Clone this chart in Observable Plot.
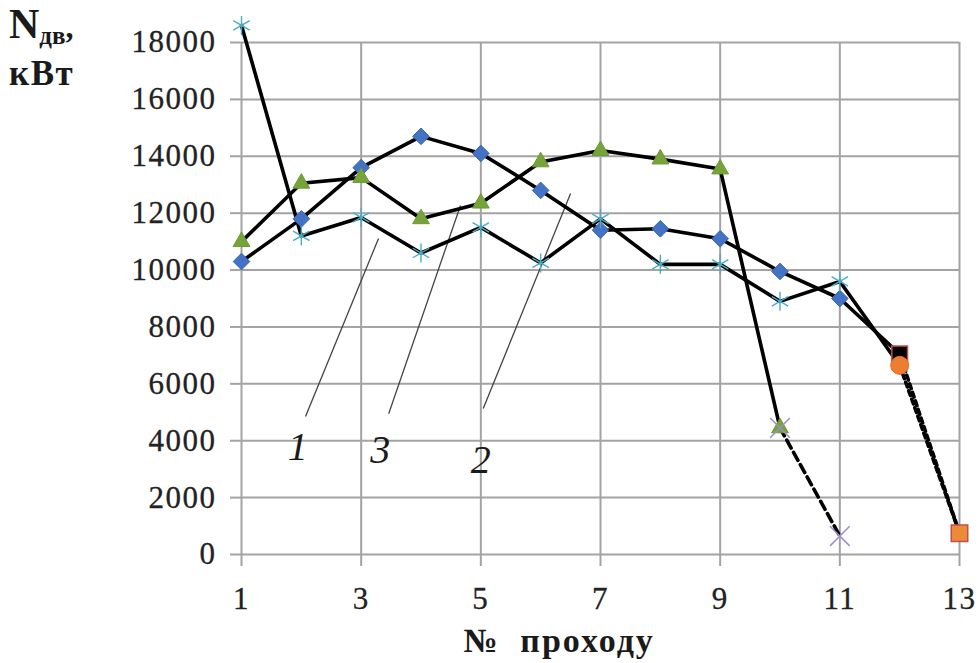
<!DOCTYPE html>
<html>
<head>
<meta charset="utf-8">
<script src="https://cdn.jsdelivr.net/npm/d3@7"></script>
<script src="https://cdn.jsdelivr.net/npm/@observablehq/plot@0.6"></script>
<style>
  html, body { margin: 0; padding: 0; background: #fff; }
  #chart svg { display: block; }
  #chart g[aria-label="y-axis tick label"] text,
  #chart g[aria-label="x-axis tick label"] text { letter-spacing: 1.5px; stroke: #222; stroke-width: 0.3px; }
</style>
</head>
<body>
<div id="chart"></div>
<script>
// ---- data ----
const passes = [1, 2, 3, 4, 5, 6, 7, 8, 9, 10, 11, 12, 13];
const xTicks = [1, 3, 5, 7, 9, 11, 13];
const yTicks = [0, 2000, 4000, 6000, 8000, 10000, 12000, 14000, 16000, 18000];

// curve 1 (cyan asterisks), passes 1..12
const curve1 = [18600, 11200, 11850, 10600, 11500, 10250, 11800, 10200, 10200, 8900, 9600, 6650];
// curve 2 (blue diamonds), passes 1..12
const curve2 = [10300, 11800, 13600, 14700, 14100, 12800, 11400, 11450, 11100, 9950, 9000, 7050];
// curve 3 (green triangles), passes 1..10
const curve3 = [11000, 13050, 13250, 11800, 12350, 13800, 14200, 13900, 13550, 4450];

// dashed continuation of curve 3 (purple crosses)
const ext3X = [10, 11];
const ext3Y = [4450, 650];
// dashed continuation of curves 1 and 2 (orange markers)
const extX = [12, 13];
const ext1Y = [6650, 750];
const ext2Y = [7050, 750];

// curve labels with leader lines
const labelText = ["1", "3", "2"];
const labelX = [1.94, 3.32, 5.0];
const labelY = [3760, 3650, 3300];
const leaderX1 = [2.07, 3.46, 5.04];
const leaderY1 = [4850, 4950, 5130];
const leaderX2 = [3.29, 4.66, 6.5];
const leaderY2 = [11110, 12270, 12690];

// ---- tables ----
const toRows = (ys) => ys.map((y, i) => ({x: passes[i], y}));
const c1 = toRows(curve1);
const c2 = toRows(curve2);
const c3 = toRows(curve3);
const e3 = ext3X.map((x, i) => ({x, y: ext3Y[i]}));
const e1 = extX.map((x, i) => ({x, y: ext1Y[i]}));
const e2 = extX.map((x, i) => ({x, y: ext2Y[i]}));
const labels = labelText.map((t, i) => ({t, x: labelX[i], y: labelY[i],
  x1: leaderX1[i], y1: leaderY1[i], x2: leaderX2[i], y2: leaderY2[i]}));

const lineW = 3.6;
const grey = "#a3a3a3";

const chart = Plot.plot({
  width: 979,
  height: 663,
  marginLeft: 241,
  marginRight: 20,
  marginTop: 42,
  marginBottom: 109,
  style: {fontFamily: "'Liberation Serif', 'Times New Roman', serif", background: "#fff", color: "#222"},
  x: {domain: [1, 13], ticks: xTicks},
  y: {domain: [0, 18000], ticks: yTicks},
  clip: false,
  marks: [
    Plot.gridY(yTicks, {stroke: grey, strokeOpacity: 1, strokeWidth: 2}),
    Plot.gridX(xTicks, {stroke: grey, strokeOpacity: 1, strokeWidth: 2}),
    Plot.axisY(yTicks, {tickSize: 11, tickPadding: 14, fontSize: 31, stroke: grey, strokeWidth: 2, fill: "#222", label: null, tickFormat: d => String(d)}),
    Plot.axisX(xTicks, {tickSize: 12, tickPadding: 20, fontSize: 31, stroke: grey, strokeWidth: 2, fill: "#222", label: null, tickFormat: d => String(d)}),

    // leader lines + labels
    Plot.link(labels, {x1: "x1", y1: "y1", x2: "x2", y2: "y2", stroke: "#444", strokeWidth: 1.3}),
    Plot.text(labels, {x: "x", y: "y", text: "t", fontSize: 40, fontStyle: "italic", fill: "#1a1a1a"}),

    // lines
    Plot.line(c1, {x: "x", y: "y", stroke: "#000", strokeWidth: lineW}),
    Plot.line(c2, {x: "x", y: "y", stroke: "#000", strokeWidth: lineW}),
    Plot.line(c3, {x: "x", y: "y", stroke: "#000", strokeWidth: lineW}),
    Plot.line(e3, {x: "x", y: "y", stroke: "#000", strokeWidth: lineW, strokeDasharray: "9,5"}),
    Plot.line(e1, {x: "x", y: "y", stroke: "#000", strokeWidth: lineW, strokeDasharray: "5,4"}),
    Plot.line(e2, {x: "x", y: "y", stroke: "#000", strokeWidth: lineW, strokeDasharray: "5,4", strokeDashoffset: 4.5}),

    // markers
    Plot.dot(c2.slice(0, 11), {x: "x", y: "y", symbol: "diamond2", r: 7.5, fill: "#4472c4", stroke: "#3a66b3", strokeWidth: 1}),
    Plot.dot(c3, {x: "x", y: "y", symbol: "triangle2", r: 8, fill: "#77a43a", stroke: "#6b9a33", strokeWidth: 1}),
    Plot.dot(c1, {x: "x", y: "y", symbol: "asterisk", r: 9, stroke: "#4bacc6", strokeWidth: 1.4}),
    Plot.dot(e3, {x: "x", y: "y", symbol: "times", r: 9, stroke: "#9b8ec9", strokeWidth: 1.5}),
    Plot.dot(c2.slice(11), {x: "x", y: "y", symbol: "square2", r: 10, fill: "#000", stroke: "#c0504d", strokeWidth: 1.5}),
    Plot.dot(e1.slice(0, 1), {x: "x", y: "y", symbol: "circle", r: 9, fill: "#ed7d31", stroke: "#e0701f", strokeWidth: 1}),
    Plot.dot(e1.slice(1), {x: "x", y: "y", symbol: "square2", r: 10.5, fill: "#ed8a3a", stroke: "#c0504d", strokeWidth: 1.5})
  ]
});

document.getElementById("chart").appendChild(chart);

// axis titles
const svg = d3.select(chart);
const t1 = svg.append("text")
  .attr("x", 9).attr("y", 38).attr("text-anchor", "start")
  .attr("font-family", "'Liberation Serif', serif")
  .attr("font-weight", "bold").attr("fill", "#1a1a1a");
t1.append("tspan").attr("font-size", 42).text("N");
t1.append("tspan").attr("font-size", 25).attr("dy", 6).text("дв");
t1.append("tspan").attr("font-size", 32).attr("dy", -6).text(",");
svg.append("text")
  .attr("x", 9).attr("y", 85).attr("text-anchor", "start")
  .attr("font-family", "'Liberation Serif', serif")
  .attr("font-weight", "bold").attr("font-size", 35).attr("letter-spacing", 1.5)
  .attr("fill", "#1a1a1a").text("кВт");
svg.append("text")
  .attr("x", 559).attr("y", 652).attr("text-anchor", "middle")
  .attr("font-family", "'Liberation Serif', serif")
  .attr("font-weight", "bold").attr("font-size", 34).attr("letter-spacing", 2)
  .attr("fill", "#1a1a1a").attr("xml:space", "preserve").text("№  проходу");
</script>
</body>
</html>
